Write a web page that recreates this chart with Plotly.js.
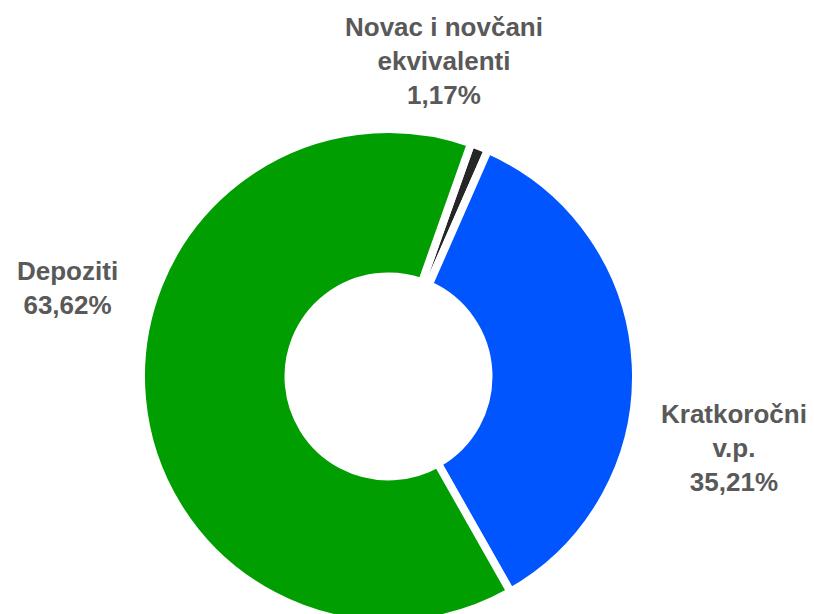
<!DOCTYPE html>
<html>
<head>
<meta charset="utf-8">
<script src="https://cdn.plot.ly/plotly-3.0.1.min.js"></script>
<style>
  html, body { margin: 0; padding: 0; background: #ffffff; }
  #wrap { width: 814px; height: 614px; overflow: hidden; position: relative; }
  #chart { width: 814px; height: 753px; }
</style>
</head>
<body>
<div id="wrap"><div id="chart"></div></div>
<script>
// Data
var categories = ['Novac i novčani ekvivalenti', 'Kratkoročni v.p.', 'Depoziti'];
var labelLines = ['Novac i novčani<br>ekvivalenti', 'Kratkoročni<br>v.p.', 'Depoziti'];
var shares = [1.17, 35.21, 63.62];
var colors = ['#262626', '#0055FF', '#009E00'];

// Label placement (pixels from top-left of the 814x753 plot area)
var labelPos = [[444, 61], [734, 448], [67, 288]];

var W = 814, H = 753;

var trace = {
  type: 'pie',
  labels: categories,
  values: shares,
  sort: false,
  direction: 'clockwise',
  rotation: 19.5,
  hole: 0.404,
  textinfo: 'none',
  hoverinfo: 'none',
  showlegend: false,
  marker: { colors: colors, line: { color: '#ffffff', width: 8 } },
  domain: { x: [141 / W, 636 / W], y: [0, 1] }
};

var annotations = categories.map(function (c, i) {
  return {
    xref: 'paper', yref: 'paper',
    x: labelPos[i][0] / W,
    y: 1 - labelPos[i][1] / H,
    xanchor: 'center', yanchor: 'middle',
    align: 'center',
    showarrow: false,
    text: '<b>' + labelLines[i] + '<br>' + shares[i].toFixed(2).replace('.', ',') + '%</b>',
    font: { family: 'Liberation Sans, Arial, sans-serif', size: 26, color: '#595959' }
  };
});

var layout = {
  width: W, height: H,
  margin: { l: 0, r: 0, t: 0, b: 0 },
  paper_bgcolor: '#ffffff',
  plot_bgcolor: '#ffffff',
  annotations: annotations
};

Plotly.newPlot('chart', [trace], layout, { displayModeBar: false, staticPlot: true });
</script>
</body>
</html>
